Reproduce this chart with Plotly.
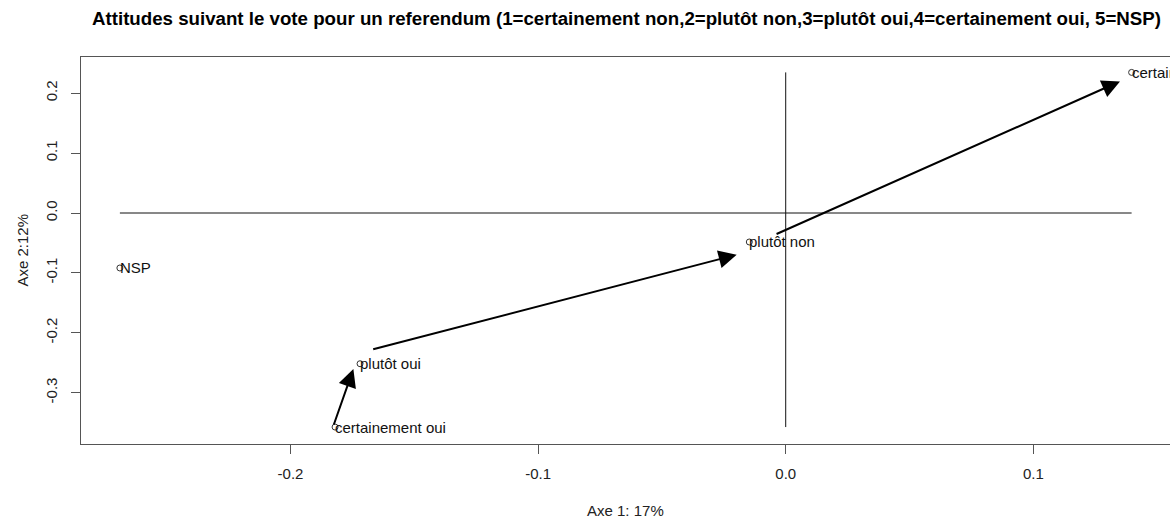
import plotly.graph_objects as go

# coordonnees des modalites sur les axes 1 et 2
modalites = ["certainement non", "plutôt non", "plutôt oui", "certainement oui", "NSP"]
axe1 = [0.1397, -0.0147, -0.1719, -0.1820, -0.2689]
axe2 = [0.2347, -0.0484, -0.2516, -0.3573, -0.0918]

# fleches : debut (x0, y0) -> pointe (x1, y1)
fleche_x0 = [-0.1827, -0.1672, -0.0043]
fleche_y0 = [-0.3556, -0.2282, -0.0362]
fleche_x1 = [-0.1746, -0.0198, 0.1350]
fleche_y1 = [-0.2604, -0.0696, 0.2197]

x_ticks = [-0.2, -0.1, 0.0, 0.1]
y_ticks = [-0.3, -0.2, -0.1, 0.0, 0.1, 0.2]

titre = ("Attitudes suivant le vote pour un referendum (1=certainement non,2=plutôt non,"
         "3=plutôt oui,4=certainement oui, 5=NSP)")
police = "Liberation Sans, Arial, sans-serif"

fig = go.Figure()

# axes passant par l'origine
fig.add_trace(go.Scatter(x=[min(axe1), max(axe1)], y=[0, 0], mode="lines",
                         line=dict(color="#111111", width=1), hoverinfo="skip"))
fig.add_trace(go.Scatter(x=[0, 0], y=[min(axe2), max(axe2)], mode="lines",
                         line=dict(color="#111111", width=1), hoverinfo="skip"))

# points
fig.add_trace(go.Scatter(x=axe1, y=axe2, mode="markers", text=modalites,
                         marker=dict(symbol="circle-open", size=6, color="#333333",
                                     line=dict(width=1))))

# etiquettes
for nom, x, y in zip(modalites, axe1, axe2):
    fig.add_annotation(x=x, y=y, text=nom, showarrow=False, xanchor="left",
                       yanchor="middle", xshift=-2, font=dict(size=15, color="#111111"))

# fleches
for x0, y0, x1, y1 in zip(fleche_x0, fleche_y0, fleche_x1, fleche_y1):
    fig.add_annotation(x=x1, y=y1, ax=x0, ay=y0, axref="x", ayref="y", xref="x", yref="y",
                       text="", showarrow=True, arrowhead=2, arrowsize=1.8,
                       arrowwidth=2, arrowcolor="black")

# titres des axes
fig.add_annotation(text="Axe 1: 17%", xref="paper", yref="paper", x=0.5, y=0,
                   yanchor="middle", yshift=-66, showarrow=False,
                   font=dict(size=15, color="#222222"))
fig.add_annotation(text="Axe 2:12%", xref="paper", yref="paper", x=0, y=0.5,
                   xanchor="center", xshift=-59, textangle=-90, showarrow=False,
                   font=dict(size=15, color="#222222"))

fig.update_xaxes(range=[-0.2846, 0.1552], tickvals=x_ticks,
                 ticktext=[f"{v:.1f}" for v in x_ticks],
                 showgrid=False, zeroline=False, showline=True, mirror=True,
                 linecolor="#555555", linewidth=1, ticks="outside", ticklen=9,
                 tickcolor="#555555", ticklabelstandoff=7,
                 tickfont=dict(size=15, color="#222222"))
fig.update_yaxes(range=[-0.3856, 0.2604], tickvals=y_ticks,
                 ticktext=[f"{v:.1f}" for v in y_ticks],
                 showgrid=False, zeroline=False, showline=True, mirror=False,
                 linecolor="#555555", linewidth=1, ticks="outside", ticklen=9,
                 tickcolor="#555555", tickangle=-90, ticklabelstandoff=8,
                 tickfont=dict(size=15, color="#222222"))

fig.update_layout(
    width=1170, height=519,
    title=dict(text=titre, x=626.5 / 1170, xanchor="center", xref="container",
               y=1 - 18.5 / 519, yanchor="middle", yref="container",
               font=dict(size=18.7, color="black", weight="bold")),
    font=dict(family=police),
    showlegend=False,
    plot_bgcolor="white", paper_bgcolor="white",
    margin=dict(l=81, r=0, t=57, b=75),
)

fig.write_html("out.html", config={"displayModeBar": False},
               post_script="document.body.style.margin='0';")
